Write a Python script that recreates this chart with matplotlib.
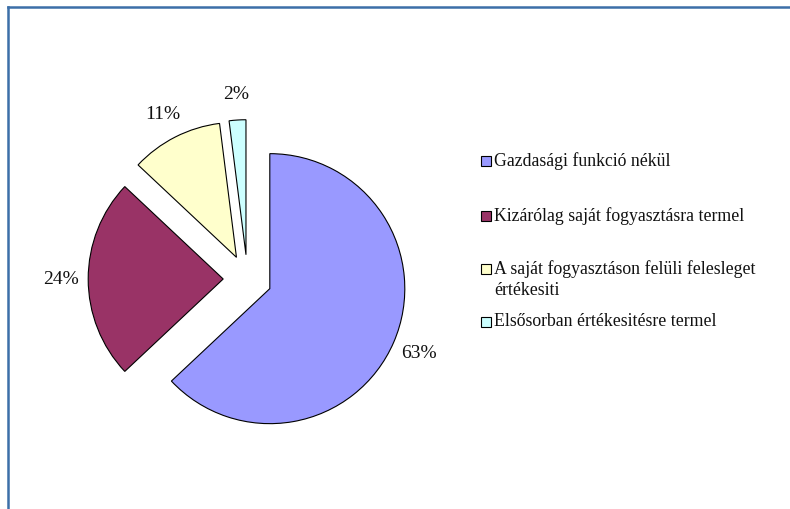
import matplotlib
matplotlib.use("Agg")
import matplotlib.pyplot as plt
from matplotlib.patches import Rectangle
from matplotlib.lines import Line2D

labels = ["Gazdasági funkció nékül",
          "Kizárólag saját fogyasztásra termel",
          "A saját fogyasztáson felüli felesleget\nértékesiti",
          "Elsősorban értékesitésre termel"]
shares = [63, 24, 11, 2]
colors = ["#9999FF", "#993366", "#FFFFCC", "#CCFFFF"]


def main():
    W, H = 790, 510
    fig = plt.figure(figsize=(W / 100, H / 100), dpi=100)
    plt.rcParams["font.family"] = ["Liberation Serif", "DejaVu Serif"]

    ax = fig.add_axes([0, 0, 1, 1])
    wedges, texts, autotexts = ax.pie(
        shares, colors=colors, startangle=90, counterclock=False,
        explode=[0.18] * len(shares), autopct="%d%%", pctdistance=1.2,
        wedgeprops=dict(edgecolor="black", linewidth=0.8),
        textprops=dict(fontsize=14, color="#111111"))

    # pixel layout: pie centre at (247, 280), radius 135 px
    cx, cy, r = 247.5, 280, 135
    ax.set_xlim(-cx / r, (W - cx) / r)
    ax.set_ylim(-(H - cy) / r, cy / r)
    ax.set_aspect("auto")
    ax.axis("off")

    # legend, drawn by hand to keep the Excel-like spacing
    ys = [162, 216.5, 270, 323]
    for lab, col, y in zip(labels, colors, ys):
        fig.add_artist(Rectangle((481 / W, 1 - (y + 5) / H), 10 / W, 10 / H,
                                 transform=fig.transFigure, facecolor=col,
                                 edgecolor="black", linewidth=0.8))
        fig.text(494 / W, 1 - (y - 9.5) / H, lab, fontsize=12.8, va="top",
                 ha="left", linespacing=1.3, color="#111111")

    # chart frame (top and left edges visible)
    frame = dict(color="#3c6fa8", linewidth=1.8, transform=fig.transFigure)
    fig.add_artist(Line2D([8 / W, 1], [1 - 8 / H, 1 - 8 / H], **frame))
    fig.add_artist(Line2D([8 / W, 8 / W], [0, 1 - 8 / H], **frame))

    fig.savefig("out.png", dpi=100)


if __name__ == "__main__":
    main()
